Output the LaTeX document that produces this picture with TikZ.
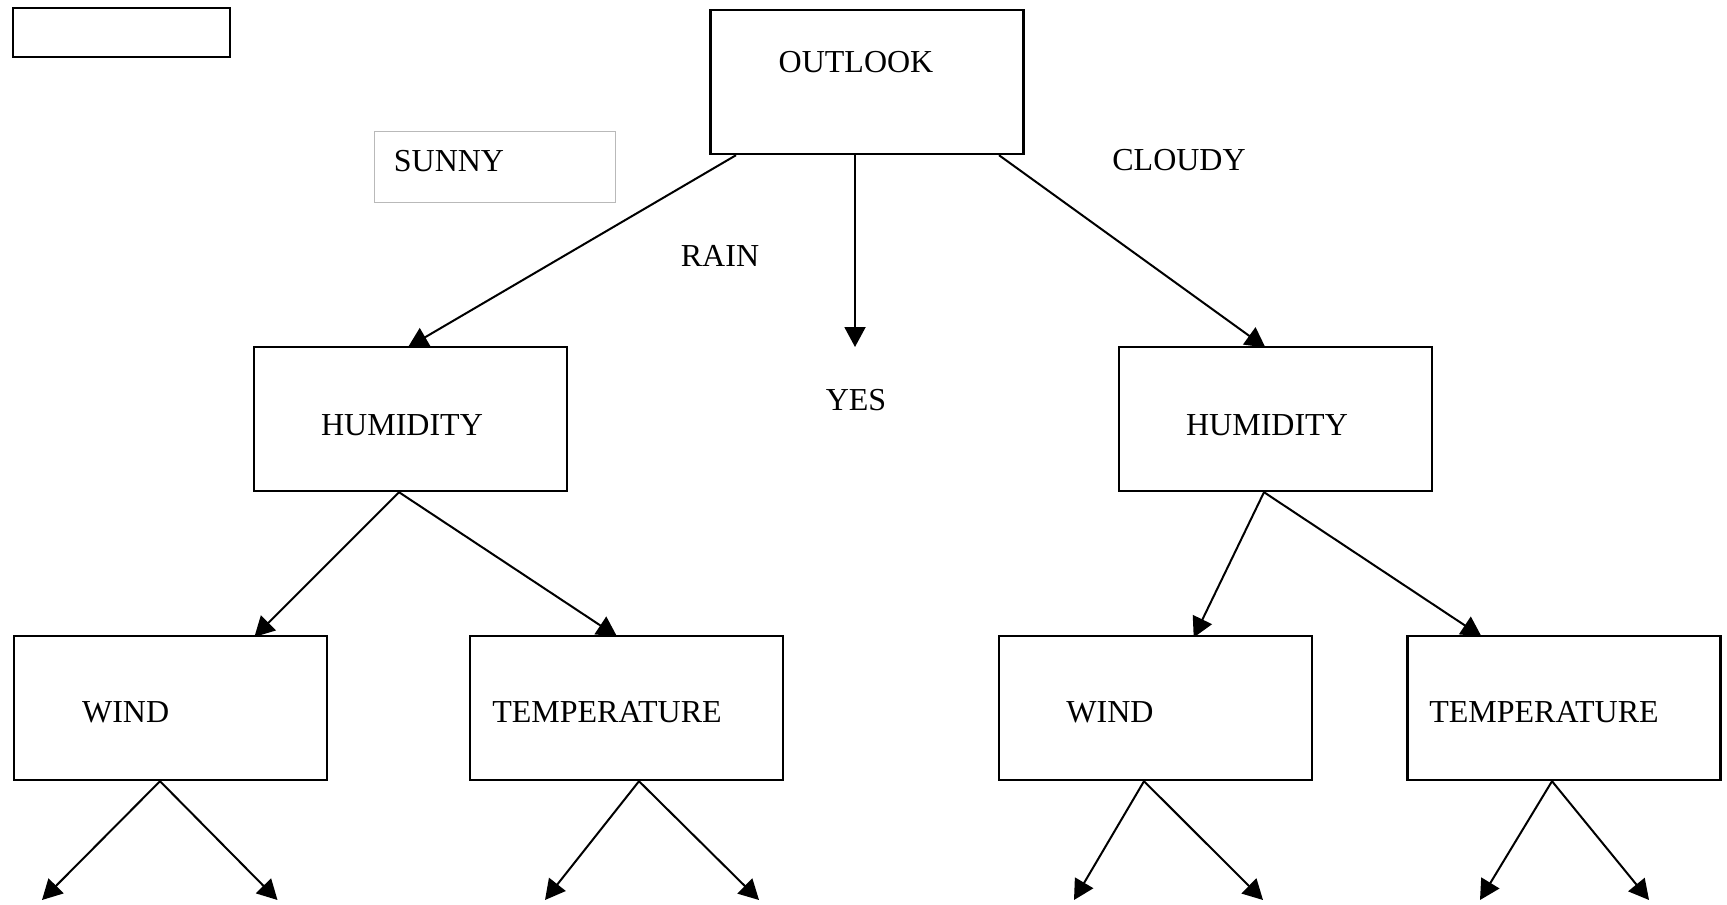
\documentclass[tikz,border=0pt]{standalone}
\usepackage{fontspec}
\setmainfont{Liberation Serif}
\usetikzlibrary{arrows.meta,calc,backgrounds}
\tikzset{
  treebox/.style={draw, fill=white, line width=1.2pt, minimum width=156.5pt, minimum height=72pt, inner sep=0pt},
  boxtext/.style={anchor=base, inner sep=0pt, font=\fontsize{16}{19}\selectfont},
  branch/.style={line width=1pt, -{Triangle[length=10pt,width=10.5pt]}},
  intobox/.style={branch, shorten >=-1.5pt}
}
\begin{document}
\begin{tikzpicture}[x=0.5pt, y=-0.5pt]
                \useasboundingbox (0,0) rectangle (1727,904);
                % Top row
                \node [treebox, minimum width=108.5pt, minimum height=24.5pt] (blank) at (121.5,32.5) {};
                \node [treebox] (outlook) at (867,82) {};
                \node [boxtext] (outlooktext) at (856,73) {OUTLOOK};
                \node [draw=gray!55, line width=0.5pt, minimum width=120.5pt, minimum height=35.5pt, inner sep=0pt] (sunny) at (494.5,166.5) {};
                \node [boxtext] (sunnytext) at (449,171) {SUNNY};
                \node [boxtext] (cloudy) at (1179,170) {CLOUDY};
                \node [boxtext] (rain) at (720,266) {RAIN};
                \node [boxtext] (yes) at (856,410) {YES};
                % Second row
                \node [treebox] (hum1) at (410.5,419) {};
                \node [boxtext] (hum1text) at (402,435) {HUMIDITY};
                \node [treebox] (hum2) at (1275.5,419) {};
                \node [boxtext] (hum2text) at (1267,435) {HUMIDITY};
                % Third row
                \node [treebox] (wind1) at (170.5,708) {};
                \node [boxtext] (wind1text) at (125.6,722) {WIND};
                \node [treebox] (temp1) at (626.5,708) {};
                \node [boxtext] (temp1text) at (607,722) {TEMPERATURE};
                \node [treebox] (wind2) at (1155.5,708) {};
                \node [boxtext] (wind2text) at (1110,722) {WIND};
                \node [treebox] (temp2) at (1564,708) {};
                \node [boxtext] (temp2text) at (1544,722) {TEMPERATURE};
                % Free ends
                \coordinate (yestip) at (855,347);
                \coordinate (leafa) at (42,900);
                \coordinate (leafb) at (277.5,900);
                \coordinate (leafc) at (545,900);
                \coordinate (leafd) at (759,900);
                \coordinate (leafe) at (1074,900);
                \coordinate (leaff) at (1263,900);
                \coordinate (leafg) at (1480,900);
                \coordinate (leafh) at (1649,900);
                \begin{scope}[on background layer]
                % Outlook branches
                \draw [intobox] ($(outlook.south)+(-131,0)$) -- (hum1.north);
                \draw [branch] ($(outlook.south)+(-12,0)$) -- (yestip);
                \draw [intobox] ($(outlook.south)+(132,0)$) -- ($(hum2.north)+(-12.5,0)$);
                % Humidity branches
                \draw [intobox] ($(hum1.south)+(-11.5,0)$) -- ($(wind1.north)+(86,0)$);
                \draw [intobox] ($(hum1.south)+(-11.5,0)$) -- ($(temp1.north)+(-12,0)$);
                \draw [intobox] ($(hum2.south)+(-11.5,0)$) -- ($(wind2.north)+(39.5,0)$);
                \draw [intobox] ($(hum2.south)+(-11.5,0)$) -- ($(temp2.north)+(-85,0)$);
                % Leaves
                \draw [branch] ($(wind1.south)+(-10.5,0)$) -- (leafa);
                \draw [branch] ($(wind1.south)+(-10.5,0)$) -- (leafb);
                \draw [branch] ($(temp1.south)+(12.5,0)$) -- (leafc);
                \draw [branch] ($(temp1.south)+(12.5,0)$) -- (leafd);
                \draw [branch] ($(wind2.south)+(-11.5,0)$) -- (leafe);
                \draw [branch] ($(wind2.south)+(-11.5,0)$) -- (leaff);
                \draw [branch] ($(temp2.south)+(-12,0)$) -- (leafg);
                \draw [branch] ($(temp2.south)+(-12,0)$) -- (leafh);
                \end{scope}
            \end{tikzpicture}
\end{document}
